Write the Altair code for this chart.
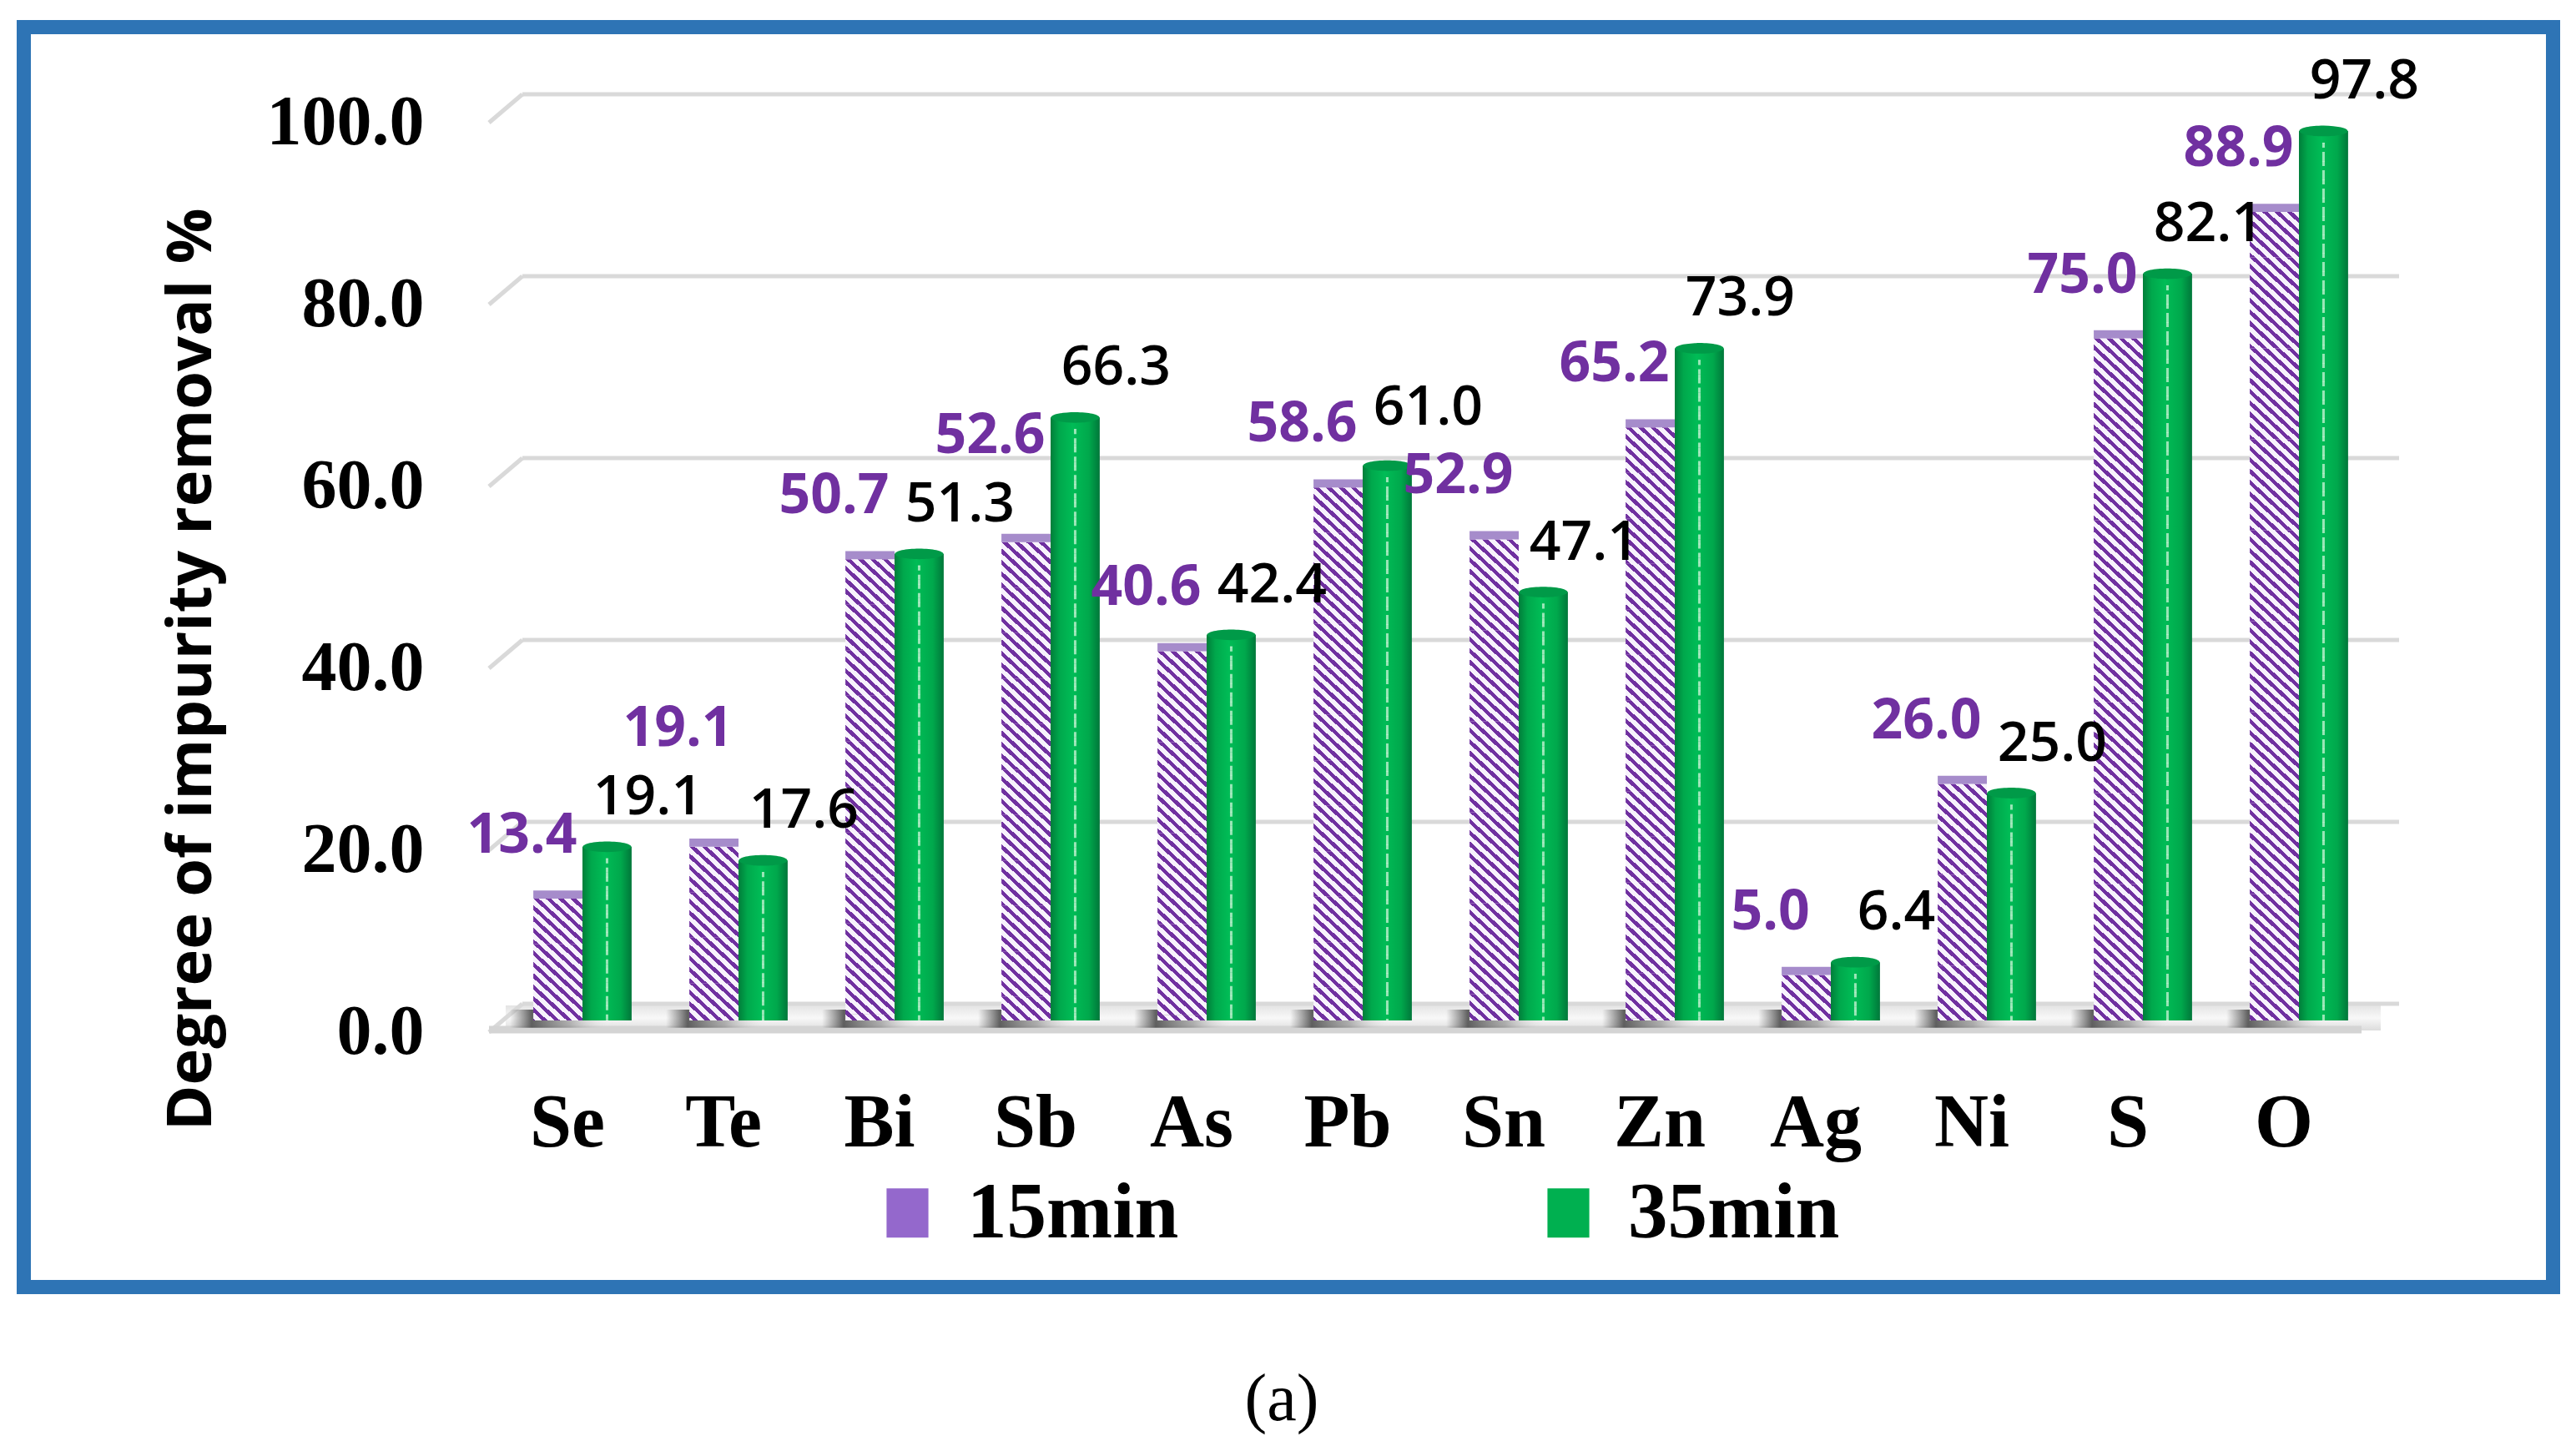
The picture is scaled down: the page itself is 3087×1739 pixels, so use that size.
import altair as alt
import pandas as pd

# ---------------- data ----------------
elements = ["Se", "Te", "Bi", "Sb", "As", "Pb", "Sn", "Zn", "Ag", "Ni", "S", "O"]
removal_15min = [13.4, 19.1, 50.7, 52.6, 40.6, 58.6, 52.9, 65.2, 5.0, 26.0, 75.0, 88.9]
removal_35min = [19.1, 17.6, 51.3, 66.3, 42.4, 61.0, 47.1, 73.9, 6.4, 25.0, 82.1, 97.8]
series_names = ["15min", "35min"]
y_tick_values = [0, 20, 40, 60, 80, 100]

# ---------------- styles ----------------
PURPLE = "#7030A0"
GREEN = "#00B050"
BORDER = "#2E74B5"
GRID = "#D9D9D9"
W, H = 2281, 1090
PX = H / 100.0          # pixels per data unit
SEG = 5.0               # height (data units) of one hatch tile
LAB15_UP = 75 / PX      # label centre above bar top (15min)
LAB35_UP = 59 / PX      # label centre above bar top (35min)
MIN_GAP = 82 / PX       # minimal vertical gap between neighbouring labels

df = pd.DataFrame({
    "element": elements * 2,
    "series": ["15min"] * len(elements) + ["35min"] * len(elements),
    "value": removal_15min + removal_35min,
})

# label anchors: above the bar, nudged up when neighbouring labels would collide
lab15 = [v + LAB15_UP for v in removal_15min]
lab35 = [v + LAB35_UP for v in removal_35min]
for i in range(1, len(elements)):
    if abs(lab15[i] - lab35[i - 1]) < MIN_GAP:
        if lab35[i - 1] >= lab15[i]:
            lab35[i - 1] = lab15[i] + MIN_GAP
        else:
            lab15[i] = lab35[i - 1] + MIN_GAP
df["label_y"] = lab15 + lab35
df15 = df[df.series == "15min"]
df35 = df[df.series == "35min"]

# hatch tiles for the 15min bars (stacked from the top of each bar downward)
rows = []
for e, v in zip(elements, removal_15min):
    j = 0
    while v - SEG * j > 0:
        rows.append({"element": e, "series": "15min",
                     "top": v - SEG * j, "bottom": v - SEG * (j + 1)})
        j += 1
seg_df = pd.DataFrame(rows)
cap_df = df15.assign(cap=df15.value + 0.9)
tick_df = pd.DataFrame({"tick": y_tick_values})
one = pd.DataFrame({"k": [0]})

# ---------------- gradients ----------------
k = 8
stripe_stops = []
for i in range(k):
    a = i / k
    b = (i + 0.45) / k
    c = (i + 1) / k
    stripe_stops += [alt.GradientStop(offset=a, color=PURPLE),
                     alt.GradientStop(offset=b, color=PURPLE),
                     alt.GradientStop(offset=b, color="#F7F2FC"),
                     alt.GradientStop(offset=c, color="#F7F2FC")]
stripe_fill = alt.LinearGradient(gradient="linear", stops=stripe_stops,
                                 x1=0, y1=1, x2=1, y2=0)
green_fill = alt.LinearGradient(gradient="linear", x1=0, y1=0, x2=1, y2=0, stops=[
    alt.GradientStop(offset=0, color="#007E3A"),
    alt.GradientStop(offset=0.18, color="#00A84C"),
    alt.GradientStop(offset=0.45, color="#00BC56"),
    alt.GradientStop(offset=0.78, color="#00A84C"),
    alt.GradientStop(offset=1, color="#00773A"),
])
floor_fill = alt.LinearGradient(gradient="linear", x1=0, y1=0, x2=0, y2=1, stops=[
    alt.GradientStop(offset=0, color="#E4E4E4"),
    alt.GradientStop(offset=0.5, color="#F8F8F8"),
    alt.GradientStop(offset=1, color="#DCDCDC"),
])
shadow_fill = alt.LinearGradient(gradient="linear", x1=0, y1=0, x2=1, y2=0, stops=[
    alt.GradientStop(offset=0, color="rgba(90,90,90,0)"),
    alt.GradientStop(offset=0.22, color="rgba(70,70,70,0.85)"),
    alt.GradientStop(offset=0.6, color="rgba(120,120,120,0.55)"),
    alt.GradientStop(offset=1, color="rgba(220,220,220,0)"),
])

# ---------------- shared encodings ----------------
x_axis = alt.Axis(title=None, domain=False, ticks=False, grid=False,
                  labelFont="Liberation Serif", labelFontWeight="bold",
                  labelFontSize=90, labelColor="black", labelAngle=0,
                  labelBaseline="alphabetic", labelPadding=150, labelOffset=-18)
x_enc = alt.X("element:N", sort=elements,
              scale=alt.Scale(domain=elements, paddingInner=0.37, paddingOuter=0.284),
              axis=x_axis)
xo_enc = alt.XOffset("series:N",
                     scale=alt.Scale(domain=series_names, paddingInner=0, paddingOuter=0))
y_scale = alt.Scale(domain=[0, 100], nice=False, zero=True)
y_axis = alt.Axis(values=y_tick_values, format=".1f", domain=False, ticks=False, grid=False,
                  labelFont="Liberation Serif", labelFontWeight="bold", labelFontSize=84,
                  labelColor="black", labelPadding=78, labelOffset=14, labelLimit=0,
                  title="Degree of impurity removal %", titleFont="Open Sans",
                  titleFontWeight="bold", titleFontSize=74, titleColor="black",
                  titleAngle=270, titleX=-356, titleY=669, titleBaseline="middle",
                  titleAlign="center", titleLimit=0)


def Y(field):
    return alt.Y(field, scale=y_scale, axis=y_axis)


# ---------------- layers ----------------
legend_layer = alt.Chart(df).mark_point(
    shape="M-0.85,-1H0.85V1H-0.85Z", filled=True, size=20
).encode(
    x=x_enc, xOffset=xo_enc, y=alt.YDatum(0, scale=y_scale, axis=y_axis),
    color=alt.Color("series:N",
                    scale=alt.Scale(domain=series_names, range=["#9468CC", GREEN]),
                    legend=alt.Legend(title=None, orient="none", legendX=454, legendY=1273,
                                      direction="horizontal",
                                      symbolType="M-0.85,-1H0.85V1H-0.85Z",
                                      symbolSize=3481, symbolStrokeWidth=0,
                                      symbolOpacity=1,
                                      labelFont="Liberation Serif", labelFontWeight="bold",
                                      labelFontSize=95, labelColor="black",
                                      labelOffset=24, columnPadding=419, labelLimit=0)),
)

grid_flat = alt.Chart(tick_df).mark_rule(color=GRID, strokeWidth=5, yOffset=-20).encode(
    y=Y("tick:Q"), x=alt.value(40), x2=alt.value(2289))
grid_diag = alt.Chart(tick_df).mark_rule(color=GRID, strokeWidth=5,
                                         yOffset=14, y2Offset=-20).encode(
    y=Y("tick:Q"), y2=alt.Y2("tick:Q"), x=alt.value(0), x2=alt.value(40))

floor = alt.Chart(one).mark_rect(fill=floor_fill).encode(
    x=alt.value(20), x2=alt.value(2267), y=alt.value(1072), y2=alt.value(1102))
floor_edge = alt.Chart(one).mark_rule(color="#D4D4D4", strokeWidth=9).encode(
    x=alt.value(0), x2=alt.value(2244), y=alt.value(1101))

shadows = alt.Chart(df15).mark_bar(fill=shadow_fill, xOffset=-28).encode(
    x=x_enc, y=alt.YDatum(1.2, scale=y_scale, axis=y_axis), y2=alt.Y2Datum(-0.8))

purple_bars = alt.Chart(seg_df).mark_bar(fill=stripe_fill, clip=True).encode(
    x=x_enc, xOffset=xo_enc, y=Y("top:Q"), y2="bottom:Q")
purple_caps = alt.Chart(cap_df).mark_bar(fill="#A68CCB", xOffset=3).encode(
    x=x_enc, xOffset=xo_enc, y=Y("cap:Q"), y2="value:Q")

green_bars = alt.Chart(df35).mark_bar(fill=green_fill).encode(
    x=x_enc, xOffset=xo_enc, y=Y("value:Q"), y2=alt.Y2Datum(0))

dot_layers = []
for dx, off in [(-15, 0), (0, 11), (15, 5)]:
    dot_layers.append(
        alt.Chart(df35).mark_rule(color="#B5EDC9", strokeWidth=3, opacity=0.85,
                                  strokeDash=[6, 16], strokeDashOffset=off,
                                  xOffset=dx, yOffset=14).encode(
            x=x_enc, xOffset=xo_enc, y=Y("value:Q"), y2=alt.Y2Datum(0)))

green_tops = alt.Chart(df35).mark_point(
    shape="M-1,0A1,0.22,0,1,0,1,0A1,0.22,0,1,0,-1,0Z",
    filled=True, size=3364, color="#009A48", opacity=1, strokeWidth=0
).encode(x=x_enc, xOffset=xo_enc, y=Y("value:Q"))

labels15 = alt.Chart(df15).mark_text(
    font="Open Sans", fontWeight="bold", fontSize=66, color=PURPLE,
    dx=-43, baseline="middle", align="center"
).encode(x=x_enc, xOffset=xo_enc, y=Y("label_y:Q"),
         text=alt.Text("value:Q", format=".1f"))
labels35 = alt.Chart(df35).mark_text(
    font="Open Sans", fontWeight=600, fontSize=66, color="black",
    dx=49, baseline="middle", align="center"
).encode(x=x_enc, xOffset=xo_enc, y=Y("label_y:Q"),
         text=alt.Text("value:Q", format=".1f"))

frame = alt.Chart(one).mark_rect(fill="transparent", stroke=BORDER, strokeWidth=17).encode(
    x=alt.value(-557.5), x2=alt.value(2473.5), y=alt.value(-100.5), y2=alt.value(1409.5))

caption = alt.Chart(one).mark_text(
    font="Liberation Serif", fontSize=80, color="black", baseline="middle", align="center"
).encode(x=alt.value(950), y=alt.value(1545), text=alt.value("(a)"))

chart = alt.layer(
    legend_layer, floor, grid_flat, grid_diag, floor_edge, shadows,
    purple_bars, purple_caps, green_bars, *dot_layers, green_tops,
    labels15, labels35, frame, caption
).properties(
    width=W, height=H,
    autosize=alt.AutoSizeParams(type="none"),
    padding={"left": 578, "top": 125, "right": 210, "bottom": 510},
    background="white",
).configure_view(strokeWidth=0)

chart.save("out.html", embed_options={"renderer": "svg", "actions": False})
